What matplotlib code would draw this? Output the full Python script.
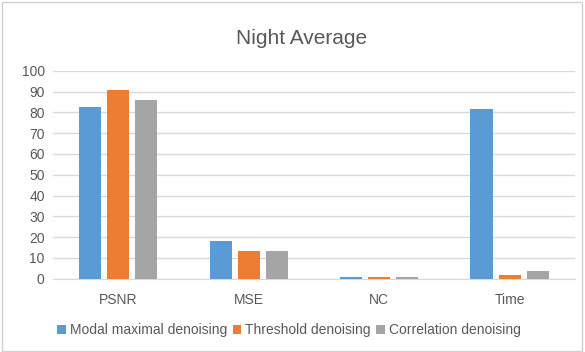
import numpy as np
import matplotlib.pyplot as plt
from matplotlib.patches import Rectangle

plt.rcParams['font.family'] = ['Liberation Sans', 'DejaVu Sans']

categories = ["PSNR", "MSE", "NC", "Time"]
modal = [82.4, 18.3, 1.0, 81.4]
threshold = [90.6, 13.5, 1.0, 1.6]
correlation = [85.9, 13.3, 1.0, 3.7]
series_names = ["Modal maximal denoising", "Threshold denoising", "Correlation denoising"]
colors = ["#5B9BD5", "#ED7D31", "#A5A5A5"]
text_color = "#595959"

fig = plt.figure(figsize=(5.85, 3.52), dpi=100)
ax = fig.add_axes([0.0906, 0.208, 0.892, 0.591])

x = np.arange(len(categories))
w = 0.17
gap = 0.045
for i, (vals, name, c) in enumerate(zip([modal, threshold, correlation], series_names, colors)):
    ax.bar(x + (i - 1) * (w + gap), vals, width=w, color=c, label=name, zorder=3)

ax.set_xlim(-0.5, len(categories) - 0.5)
ax.set_ylim(0, 100)
ax.set_yticks(range(0, 101, 10))
ax.set_xticks(x)
ax.set_xticklabels(categories)
ax.grid(axis="y", color="#D9D9D9", linewidth=1, zorder=0)
for s in ["top", "right", "left"]:
    ax.spines[s].set_visible(False)
ax.spines["bottom"].set_color("#D9D9D9")
ax.tick_params(axis="both", length=0, labelsize=10, colors=text_color)
ax.tick_params(axis="x", pad=10)
ax.tick_params(axis="y", pad=6)

fig.text(0.515, 0.89, "Night Average", ha="center", va="center", fontsize=15, color=text_color)
fig.legend(loc="center", bbox_to_anchor=(0.494, 0.062), ncol=3, frameon=False,
           fontsize=10, handlelength=0.6, handleheight=0.6, handletextpad=0.3,
           columnspacing=0.4, labelcolor=text_color)

fig.patches.append(Rectangle((0.003, 0.004), 0.992, 0.99, transform=fig.transFigure,
                             fill=False, edgecolor="#D0D0D0", linewidth=1))

fig.savefig("out.png", dpi=100)
